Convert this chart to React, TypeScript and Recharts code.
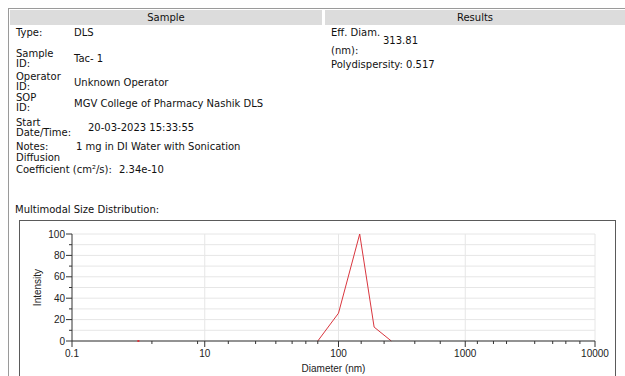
import React from 'react'
import {
  ComposedChart,
  Line,
  Scatter,
  XAxis,
  YAxis,
  CartesianGrid,
  ReferenceLine,
} from 'recharts'

// ─── data ───────────────────────────────────────────────

const DIAMETERS = [70, 100, 147, 191, 261] // nm
const INTENSITY = [0, 26, 100, 13, 0]
const STRAY_DIAMETERS = [1] // lone zero point on the baseline
const STRAY_INTENSITY = [0]

const X_LABELS = ['0.1', '10', '100', '1000', '10000']
const X_MAJOR_D = [0.1, 10, 100, 1000, 10000]
const X_MINOR_D = [
  1.6, 7.8, 15, 24, 34, 45, 57, 70, 151, 229, 400, 635, 1240, 1650, 2080,
  3430, 4720, 5960, 7650,
]
const Y_TICKS = [0, 10, 20, 30, 40, 50, 60, 70, 80, 90, 100]

// the instrument axis is not a plain log axis: first label step covers two decades
const AXIS_STOPS = [0, 133, 267, 394, 524]

function toAxis(d: number) {
  const lg = Math.log10(d)
  if (lg <= 1) return ((lg + 1) / 2) * AXIS_STOPS[1]
  const i = Math.min(Math.floor(lg), 3)
  return AXIS_STOPS[i] + (lg - i) * (AXIS_STOPS[i + 1] - AXIS_STOPS[i])
}

const lineData = DIAMETERS.map((d, i) => ({ u: toAxis(d), v: INTENSITY[i] }))
const strayData = STRAY_DIAMETERS.map((d, i) => ({ u: toAxis(d), v: STRAY_INTENSITY[i] }))
const majorU = X_MAJOR_D.map(toAxis)
const xTicks = [...majorU, ...X_MINOR_D.map(toAxis)].sort((a, b) => a - b)

const AXIS_COLOR = '#333'
const TICK_FONT = { fontFamily: '"Liberation Sans", Arial, sans-serif', fontSize: 10, fill: '#222' }

function XTick(props: any) {
  const { x, y, payload } = props
  const idx = majorU.findIndex((u) => Math.abs(u - payload.value) < 1e-6)
  if (idx < 0) {
    return <line x1={x} x2={x} y1={y} y2={y + 3} stroke={AXIS_COLOR} />
  }
  return (
    <g>
      <line x1={x} x2={x} y1={y} y2={y + 6} stroke={AXIS_COLOR} />
      <text x={x} y={y + 16} textAnchor="middle" {...TICK_FONT}>
        {X_LABELS[idx]}
      </text>
    </g>
  )
}

function YTick(props: any) {
  const { x, y, payload } = props
  if (payload.value % 20 !== 0) {
    return <line x1={x - 3} x2={x} y1={y} y2={y} stroke={AXIS_COLOR} />
  }
  return (
    <g>
      <line x1={x - 6} x2={x} y1={y} y2={y} stroke={AXIS_COLOR} />
      <text x={x - 7} y={y + 3.5} textAnchor="end" {...TICK_FONT}>
        {payload.value}
      </text>
    </g>
  )
}

function T({ x, y, children }: { x: number; y: number; children: React.ReactNode }) {
  return (
    <div
      style={{
        position: 'absolute',
        left: x,
        top: y - 5,
        lineHeight: '10px',
        whiteSpace: 'nowrap',
      }}
    >
      {children}
    </div>
  )
}

export default function App() {
  return (
    <div
      style={{
        position: 'absolute',
        left: 0,
        top: 0,
        width: 625,
        height: 376,
        overflow: 'hidden',
        background: '#fff',
        fontFamily: '"DejaVu Sans", Verdana, sans-serif',
        fontSize: 10,
        color: '#111',
      }}
    >
      {/* report frame */}
      <div
        style={{
          position: 'absolute',
          left: 8,
          top: 8,
          width: 640,
          height: 400,
          borderTop: '1px solid #9a9a9a',
          borderLeft: '1px solid #9a9a9a',
        }}
      />
      <div
        style={{
          position: 'absolute',
          left: 10,
          top: 10,
          width: 312,
          height: 15,
          background: '#dcdcdc',
          textAlign: 'center',
          lineHeight: '15px',
        }}
      >
        Sample
      </div>
      <div
        style={{
          position: 'absolute',
          left: 325,
          top: 10,
          width: 300,
          height: 15,
          background: '#dcdcdc',
          textAlign: 'center',
          lineHeight: '15px',
        }}
      >
        Results
      </div>

      <T x={16} y={33}>Type:</T>
      <T x={74} y={33}>DLS</T>
      <T x={16} y={54}>Sample</T>
      <T x={16} y={64}>ID:</T>
      <T x={74} y={59}>Tac- 1</T>
      <T x={16} y={77}>Operator</T>
      <T x={16} y={87}>ID:</T>
      <T x={74} y={83}>Unknown Operator</T>
      <T x={16} y={98}>SOP</T>
      <T x={16} y={108}>ID:</T>
      <T x={74} y={104}>MGV College of Pharmacy Nashik DLS</T>
      <T x={16} y={123}>Start</T>
      <T x={16} y={133}>Date/Time:</T>
      <T x={88} y={128}>20-03-2023 15:33:55</T>
      <T x={16} y={147}>Notes:</T>
      <T x={76} y={147}>1 mg in DI Water with Sonication</T>
      <T x={16} y={158}>Diffusion</T>
      <T x={16} y={170}>Coefficient (cm²/s):</T>
      <T x={119} y={170}>2.34e-10</T>

      <T x={331} y={33}>Eff. Diam.</T>
      <T x={383} y={41}>313.81</T>
      <T x={331} y={51}>(nm):</T>
      <T x={331} y={65}>Polydispersity: 0.517</T>

      <T x={15} y={210}>Multimodal Size Distribution:</T>

      {/* chart box */}
      <div
        style={{
          position: 'absolute',
          left: 19,
          top: 220,
          width: 597,
          height: 170,
          border: '1px solid #5a5a5a',
          boxSizing: 'border-box',
        }}
      />
      <div style={{ position: 'absolute', left: 19, top: 220 }}>
        <ComposedChart
          width={597}
          height={160}
          data={lineData}
          margin={{ top: 14, right: 21, bottom: 8, left: 13 }}
        >
          <CartesianGrid stroke="#e6e6e6" vertical={false} />
          {majorU.slice(1).map((u) => (
            <ReferenceLine key={u} x={u} stroke="#e6e6e6" />
          ))}
          <XAxis
            dataKey="u"
            type="number"
            domain={[0, AXIS_STOPS[4]]}
            ticks={xTicks}
            interval={0}
            tick={<XTick />}
            tickLine={false}
            tickSize={0}
            tickMargin={0}
            axisLine={{ stroke: AXIS_COLOR }}
            height={31}
            allowDataOverflow
            label={{
              value: 'Diameter (nm)',
              position: 'insideBottom',
              offset: 0,
              style: { ...TICK_FONT },
            }}
          />
          <YAxis
            type="number"
            domain={[0, 100]}
            ticks={Y_TICKS}
            interval={0}
            tick={<YTick />}
            tickLine={false}
            tickSize={0}
            tickMargin={0}
            axisLine={{ stroke: AXIS_COLOR }}
            width={40}
            label={{
              value: 'Intensity',
              angle: -90,
              position: 'insideLeft',
              offset: 5,
              style: { ...TICK_FONT, textAnchor: 'middle' },
            }}
          />
          <Line
            dataKey="v"
            stroke="#d9363e"
            strokeWidth={1}
            dot={false}
            activeDot={false}
            isAnimationActive={false}
          />
          <Scatter
            data={strayData}
            dataKey="v"
            fill="#d9363e"
            isAnimationActive={false}
            shape={(p: any) => <rect x={p.cx - 1} y={p.cy - 1} width={2} height={2} fill="#d9363e" />}
          />
        </ComposedChart>
      </div>
    </div>
  )
}
